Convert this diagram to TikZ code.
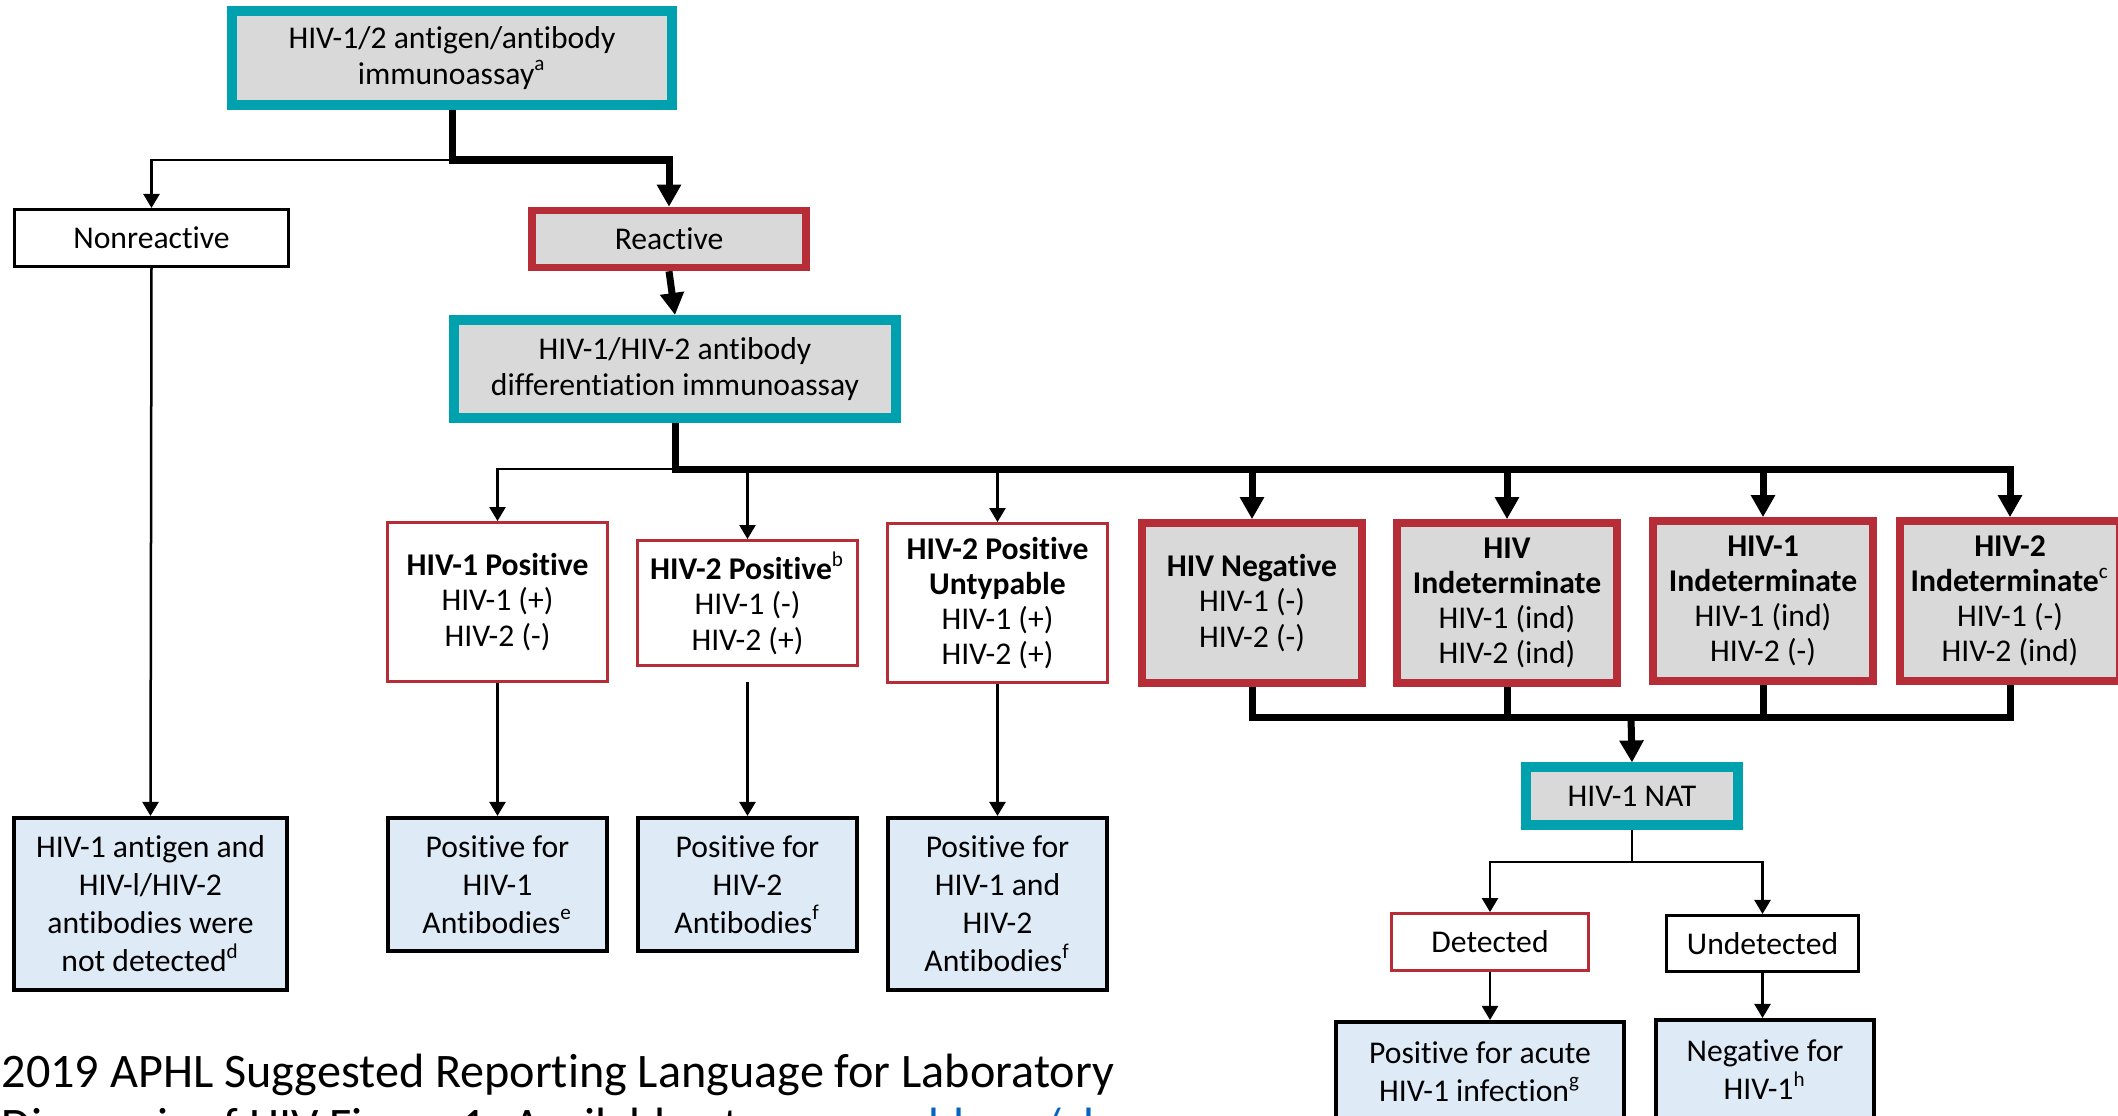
\documentclass[tikz,border=0pt]{standalone}
\usepackage{fontspec}
\setmainfont{Carlito}[Ligatures=NoCommon]
\usetikzlibrary{arrows.meta}

\definecolor{tealc}{RGB}{0,161,175}
\definecolor{redc}{RGB}{183,45,55}
\definecolor{grayc}{RGB}{217,217,217}
\definecolor{bluec}{RGB}{222,234,246}
\definecolor{linkblue}{RGB}{5,99,193}

\tikzset{
  box/.style={rectangle, draw, align=center, inner sep=1pt, font=\fontsize{9}{10}\selectfont},
  tealbox/.style={box, draw=tealc, fill=grayc, line width=0.1cm},
  redbox/.style={box, draw=redc, fill=grayc, line width=0.075cm},
  redline/.style={box, draw=redc, line width=0.028cm},
  plainbox/.style={box, line width=0.03cm},
  resultbox/.style={box, fill=bluec, line width=0.04cm, font=\fontsize{9}{10.8}\selectfont},
  thickline/.style={line width=0.07cm},
  thinline/.style={line width=0.025cm},
  bigarrow/.style={thickline, -{Triangle[length=0.22cm,width=0.23cm]}},
  smallarrow/.style={thinline, -{Triangle[length=0.14cm,width=0.16cm]}}
}

\begin{document}
\begin{tikzpicture}[x=0.01cm, y=-0.01cm]
            \useasboundingbox (0,0) rectangle (2118,1115);

            % first screening
            \node[tealbox, minimum width=4.4cm, minimum height=0.94cm] (immuno) at (452,58) {HIV-1/2 antigen/antibody\\immunoassay\textsuperscript{a}};
            \node[plainbox, minimum width=2.74cm, minimum height=0.57cm] (nonreact) at (151.5,238) {Nonreactive};
            \node[redbox, minimum width=2.74cm, minimum height=0.57cm] (react) at (669,239) {Reactive};
            \node[tealbox, minimum width=4.41cm, minimum height=0.98cm] (diffassay) at (675,369) {HIV-1/HIV-2 antibody\\differentiation immunoassay};

            % differentiation outcomes
            \node[redline, minimum width=2.2cm, minimum height=1.59cm] (pos1) at (497.5,602) {\textbf{HIV-1 Positive}\\HIV-1 (+)\\HIV-2 (-)};
            \node[redline, minimum width=2.2cm, minimum height=1.25cm] (pos2) at (747.5,603) {\textbf{HIV-2 Positive}\textsuperscript{b}\\HIV-1 (-)\\HIV-2 (+)};
            \node[redline, minimum width=2.2cm, minimum height=1.59cm] (untyp) at (997.5,603) {\textbf{HIV-2 Positive}\\\textbf{Untypable}\\HIV-1 (+)\\HIV-2 (+)};
            \node[redbox, minimum width=2.2cm, minimum height=1.6cm] (neg) at (1252,603) {\textbf{HIV Negative}\\HIV-1 (-)\\HIV-2 (-)};
            \node[redbox, minimum width=2.2cm, minimum height=1.6cm] (ind) at (1507,603) {\textbf{HIV}\\\textbf{Indeterminate}\\HIV-1 (ind)\\HIV-2 (ind)};
            \node[redbox, minimum width=2.2cm, minimum height=1.6cm] (ind1) at (1763,601) {\textbf{HIV-1}\\\textbf{Indeterminate}\\HIV-1 (ind)\\HIV-2 (-)};
            \node[redbox, minimum width=2.2cm, minimum height=1.6cm] (ind2) at (2010,601) {\textbf{HIV-2}\\\textbf{Indeterminate}\textsuperscript{c}\\HIV-1 (-)\\HIV-2 (ind)};

            % results
            \node[resultbox, minimum width=2.73cm, minimum height=1.72cm] (nodet) at (150.5,904) {HIV-1 antigen and\\HIV-l/HIV-2\\antibodies were\\not detected\textsuperscript{d}};
            \node[resultbox, minimum width=2.19cm, minimum height=1.33cm] (res1) at (497.5,884.5) {Positive for\\HIV-1\\Antibodies\textsuperscript{e}};
            \node[resultbox, minimum width=2.19cm, minimum height=1.33cm] (res2) at (747.5,884.5) {Positive for\\HIV-2\\Antibodies\textsuperscript{f}};
            \node[resultbox, minimum width=2.19cm, minimum height=1.72cm] (res12) at (997.5,904) {Positive for\\HIV-1 and\\HIV-2\\Antibodies\textsuperscript{f}};

            % NAT branch
            \node[tealbox, minimum width=2.11cm, minimum height=0.57cm] (nat) at (1632,796) {HIV-1 NAT};
            \node[redline, minimum width=1.97cm, minimum height=0.57cm] (det) at (1490,942) {Detected};
            \node[plainbox, minimum width=1.92cm, minimum height=0.56cm] (undet) at (1762.5,943.5) {Undetected};
            \node[resultbox, minimum width=2.88cm, minimum height=0.99cm] (acute) at (1480,1071.5) {Positive for acute\\HIV-1 infection\textsuperscript{g}};
            \node[resultbox, minimum width=2.18cm, minimum height=1cm] (negres) at (1765,1070) {Negative for\\HIV-1\textsuperscript{h}};

            % caption
            \node[anchor=base west, inner sep=0pt, font=\fontsize{13.7}{16}\selectfont] (cap1) at (1,1087) {2019 APHL Suggested Reporting Language for Laboratory};
            \node[anchor=base west, inner sep=0pt, font=\fontsize{13.7}{16}\selectfont] (cap2) at (1,1141) {Diagnosis of HIV Figure 1. Available at: \textcolor{linkblue}{www.aphl.org/ab}};

            % connectors
            \path (452,160) coordinate (s1);
            \path (675,469) coordinate (s2);
            \path (1631,717) coordinate (s3);
            \path (1632,862) coordinate (s4);

            \draw[bigarrow] (immuno.south) |- (s1 -| react.north) -- (react.north);
            \draw[smallarrow] (s1) -| (nonreact.north);
            \draw[smallarrow] (nonreact.south) -- (nodet.north);
            \draw[bigarrow] (react.south) -- (diffassay.north);

            \draw[bigarrow] (diffassay.south) |- (s2 -| ind2.north) -- (ind2.north);
            \foreach \n in {neg,ind,ind1}
                \draw[bigarrow] (s2 -| \n.north) -- (\n.north);
            \draw[smallarrow] (s2) -| (pos1.north);
            \foreach \n in {pos2,untyp}
                \draw[smallarrow] (s2 -| \n.north) -- (\n.north);

            \draw[smallarrow] (pos1.south) -- (res1.north);
            \draw[smallarrow, shorten <=0.15cm] (pos2.south) -- (res2.north);
            \draw[smallarrow] (untyp.south) -- (res12.north);

            \draw[thickline] (neg.south) |- (s3) -| (ind2.south);
            \foreach \n in {ind,ind1}
                \draw[thickline] (\n.south) -- (\n.south |- s3);
            \draw[bigarrow] (s3) -- (nat.north);

            \draw[thinline] (nat.south) -- (s4);
            \draw[smallarrow] (s4) -| (det.north);
            \draw[smallarrow] (s4) -| (undet.north);
            \draw[smallarrow] (det.south) -- (det.south |- acute.north);
            \draw[smallarrow] (undet.south) -- (undet.south |- negres.north);
        \end{tikzpicture}
\end{document}
